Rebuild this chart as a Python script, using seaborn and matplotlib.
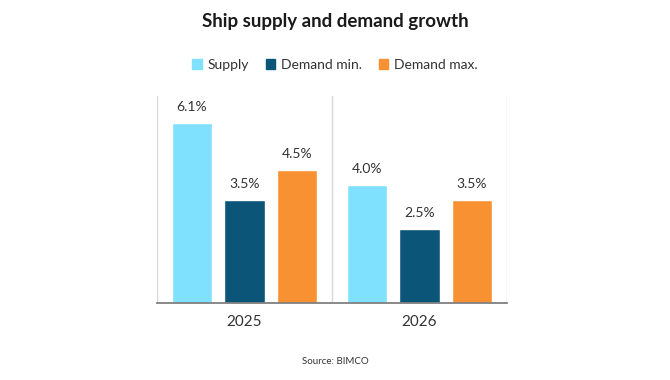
import matplotlib
matplotlib.use("Agg")
import pandas as pd
import seaborn as sns
from matplotlib import pyplot as plt

years = ["2025", "2026"]
series = ["Supply", "Demand min.", "Demand max."]
supply = [6.1, 4.0]
demand_min = [3.5, 2.5]
demand_max = [4.5, 3.5]
colors = ["#80E1FF", "#0B5578", "#F79131"]


def build_frame() -> pd.DataFrame:
    rows = []
    for name, values in zip(series, [supply, demand_min, demand_max]):
        for year, value in zip(years, values):
            rows.append({"year": year, "series": name, "growth": value})
    return pd.DataFrame(rows)


def main() -> None:
    df = build_frame()
    sns.set_theme(style="white")
    plt.rcParams["font.family"] = ["Lato", "DejaVu Sans"]

    fig = plt.figure(figsize=(6.7, 3.8), dpi=100)
    ax = fig.add_axes([157 / 670, 1 - 303 / 380, 350 / 670, 207 / 380])

    sns.barplot(
        data=df,
        x="year",
        y="growth",
        hue="series",
        hue_order=series,
        palette=colors,
        width=0.9,
        gap=0.22,
        saturation=1,
        ax=ax,
        legend=False,
    )

    for container in ax.containers:
        ax.bar_label(
            container,
            labels=[f"{v:.1f}%" for v in container.datavalues],
            padding=7,
            fontsize=10,
            color="#333333",
        )

    ax.set_xlim(-0.5, 1.5)
    ax.set_ylim(0, 7)
    ax.set_yticks([])
    ax.set_xlabel("")
    ax.set_ylabel("")
    for x in [-0.5, 0.5, 1.5]:
        ax.axvline(x, color="#D9D9D9", lw=1, zorder=0)
    for side in ["top", "left", "right"]:
        ax.spines[side].set_visible(False)
    ax.spines["bottom"].set_color("#7F7F7F")
    ax.spines["bottom"].set_linewidth(1.3)
    ax.tick_params(axis="x", length=0, pad=9, labelsize=11, labelcolor="#333333")

    fig.text(0.5, 1 - 22 / 380, "Ship supply and demand growth", ha="center",
             va="center", fontsize=13.5, fontweight="bold", color="#1A1A1A")

    handles = [plt.Rectangle((0, 0), 1, 1, color=c) for c in colors]
    fig.legend(
        handles,
        series,
        loc="center",
        bbox_to_anchor=(0.5, 1 - 65 / 380),
        ncol=3,
        frameon=False,
        fontsize=10,
        handlelength=0.7,
        handleheight=0.7,
        handletextpad=0.4,
        columnspacing=1.2,
        labelcolor="#333333",
    )

    fig.text(0.5, 1 - 362 / 380, "Source: BIMCO", ha="center", va="center",
             fontsize=7, color="#333333")

    fig.savefig("out.png", dpi=100)
    plt.close(fig)


if __name__ == "__main__":
    main()
